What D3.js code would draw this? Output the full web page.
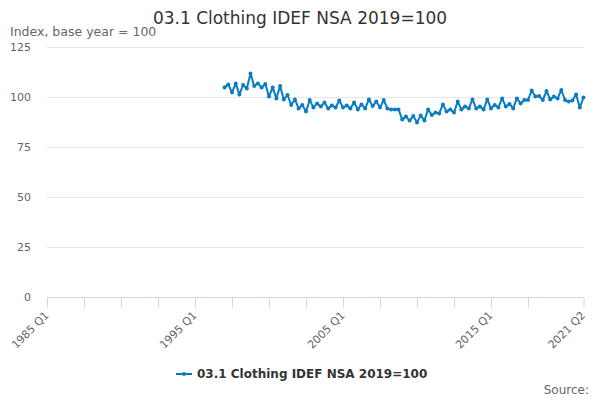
<!DOCTYPE html>
<html>
<head>
<meta charset="utf-8">
<script src="https://cdn.jsdelivr.net/npm/d3@7"></script>
<style>
  body { margin: 0; background: #fff; }
  svg { font-family: "DejaVu Sans", sans-serif; display: block; }
</style>
</head>
<body>
<svg id="chart" width="600" height="400"></svg>
<script>
// quarters 1985 Q1 .. 2021 Q2
const quarters = [];
for (let yr = 1985; yr <= 2021; yr++) {
  for (let q = 1; q <= 4; q++) {
    if (yr === 2021 && q > 2) break;
    quarters.push(`${yr} Q${q}`);
  }
}

// index values, series starts 1997 Q1
const startQuarter = '1997 Q1';
const values = [
  104.8, 106.3, 102.2, 106.8, 101.2, 106.0, 104.3, 111.8,
  105.5, 106.8, 104.8, 106.5, 100.2, 104.8, 99.3, 105.5,
  98.8, 101.0, 96.0, 98.8, 94.3, 96.0, 92.7, 98.5,
  94.8, 96.8, 95.2, 97.3, 94.3, 95.7, 94.8, 98.2,
  94.8, 95.7, 94.3, 97.2, 93.8, 96.3, 94.3, 98.8,
  95.5, 97.7, 94.7, 98.5, 94.3, 93.8, 93.8, 93.8,
  88.8, 90.2, 88.2, 90.5, 87.2, 90.8, 88.2, 93.8,
  91.0, 92.2, 91.8, 96.3, 92.7, 93.8, 92.2, 97.7,
  93.8, 95.2, 94.3, 98.8, 94.3, 95.2, 93.8, 98.8,
  94.3, 96.0, 94.8, 99.3, 95.2, 96.5, 94.3, 99.3,
  96.8, 98.5, 98.5, 103.2, 100.2, 100.5, 98.5, 103.0,
  98.8, 100.2, 99.3, 103.5, 98.5, 97.7, 98.2, 101.3,
  94.7, 99.8
];

const yTicks = [0, 25, 50, 75, 100, 125];
const tickIdx = [0, 10, 20, 30, 40, 50, 60, 70, 80, 90, 100, 110, 120, 130, 145];
const labelIdx = [0, 40, 80, 120, 145];

const title = '03.1 Clothing IDEF NSA 2019=100';
const lineColor = '#0a7cc1';

const startAt = quarters.indexOf(startQuarter);
const data = values.map((v, i) => ({ q: quarters[startAt + i], v: v }));

const svg = d3.select('#chart');
const plotLeft = 47, plotRight = 583.5, plotTop = 47, plotBottom = 297;

const x = d3.scalePoint().domain(quarters).range([plotLeft, plotRight]);
const y = d3.scaleLinear().domain([0, 125]).range([plotBottom, plotTop]);

// title + subtitle
svg.append('text')
  .attr('x', 300).attr('y', 24)
  .attr('text-anchor', 'middle')
  .attr('font-size', 17)
  .attr('fill', '#333')
  .text(title);

svg.append('text')
  .attr('x', 10).attr('y', 36)
  .attr('font-size', 12.5)
  .attr('fill', '#666')
  .text('Index, base year = 100');

// grid lines
svg.append('g')
  .selectAll('line')
  .data(yTicks.filter(d => d > 0))
  .join('line')
  .attr('x1', plotLeft).attr('x2', plotRight)
  .attr('y1', d => y(d) + 0.5).attr('y2', d => y(d) + 0.5)
  .attr('stroke', '#e6e6e6');

// y axis labels
const yAxis = d3.axisLeft(y).tickValues(yTicks).tickSize(0).tickPadding(16);
const yg = svg.append('g').attr('transform', `translate(${plotLeft},0)`).call(yAxis);
yg.select('.domain').remove();
yg.selectAll('text').attr('font-size', 11).attr('fill', '#666').attr('font-family', 'DejaVu Sans, sans-serif');

// x axis
const labelSet = labelIdx.map(i => quarters[i]);
const xAxis = d3.axisBottom(x)
  .tickValues(tickIdx.map(i => quarters[i]))
  .tickSize(10)
  .tickFormat(d => labelSet.includes(d) ? d : '');
const xg = svg.append('g').attr('transform', `translate(0,${plotBottom + 0.5})`).call(xAxis);
xg.select('.domain').attr('stroke', '#ccd6eb').attr('d', `M${plotLeft},0H${plotRight}`);
xg.selectAll('.tick line').attr('stroke', '#ccd6eb');
xg.selectAll('text')
  .attr('font-size', 11)
  .attr('fill', '#666')
  .attr('font-family', 'DejaVu Sans, sans-serif')
  .attr('text-anchor', 'end')
  .attr('x', 0).attr('y', 0).attr('dy', 0)
  .attr('transform', 'translate(2,18.5) rotate(-45)');

// the line
const line = d3.line().x(d => x(d.q)).y(d => y(d.v));
svg.append('path')
  .datum(data)
  .attr('fill', 'none')
  .attr('stroke', lineColor)
  .attr('stroke-width', 2)
  .attr('stroke-linejoin', 'round')
  .attr('d', line);

svg.append('g')
  .selectAll('circle')
  .data(data)
  .join('circle')
  .attr('cx', d => x(d.q))
  .attr('cy', d => y(d.v))
  .attr('r', 2)
  .attr('fill', lineColor);

// legend
const lg = svg.append('g').attr('transform', 'translate(176,374)');
lg.append('line').attr('x1', 0).attr('x2', 16).attr('stroke', lineColor).attr('stroke-width', 2);
lg.append('circle').attr('cx', 8).attr('r', 2).attr('fill', lineColor);
lg.append('text')
  .attr('x', 21).attr('y', 4)
  .attr('font-size', 12)
  .attr('font-weight', 'bold')
  .attr('fill', '#333')
  .text(title);

svg.append('text')
  .attr('x', 589).attr('y', 394)
  .attr('text-anchor', 'end')
  .attr('font-size', 12)
  .attr('fill', '#666')
  .text('Source:');
</script>
</body>
</html>
